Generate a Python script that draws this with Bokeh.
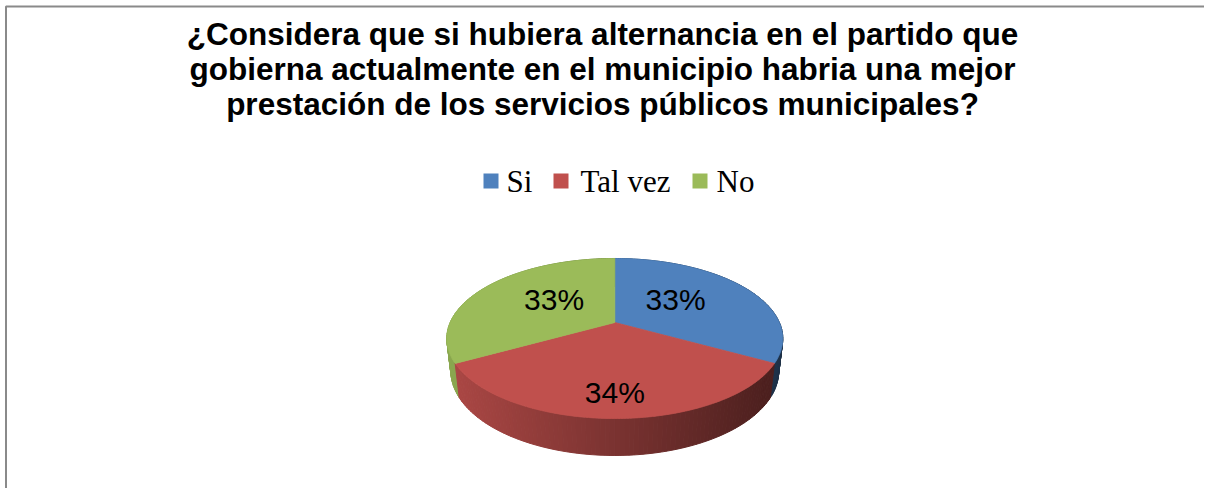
import math
from bokeh.plotting import figure
from bokeh.models import Range1d
from bokeh.core.properties import value
from bokeh.embed import file_html
from bokeh.resources import INLINE

# ---- data ----
categories = ["Si", "Tal vez", "No"]
values = [33, 34, 33]
pct_labels = ["33%", "34%", "33%"]
colors = ["#4f81bd", "#c0504d", "#9bbb59"]
title_lines = [
    "¿Considera que si hubiera alternancia en el partido que",
    "gobierna actualmente en el municipio habria una mejor",
    "prestación de los servicios públicos municipales?",
]

# ---- layout (page pixel coordinates) ----
W, H = 1204, 488
SHIFT = 0.35  # baseline correction, in em


def X(px):
    return px


def Y(py):
    return H - py


p = figure(width=W, height=H, output_backend="svg", toolbar_location=None,
           x_range=Range1d(0, W), y_range=Range1d(0, H), min_border=0,
           x_axis_location=None, y_axis_location=None)
p.grid.visible = False
p.outline_line_color = None
p.background_fill_color = "white"
p.border_fill_color = "white"

# chart border (top & left visible)
p.line([X(5.5), X(5.5), W], [0, Y(6), Y(6)], line_color="#8a8a8a", line_width=2)

# ---- title ----
TS = 31.5
baselines = [45, 80, 115]
for line, b in zip(title_lines, baselines):
    p.text(x=[X(602)], y=[Y(b - SHIFT * TS)], text=[line],
           text_font=value("Liberation Sans"), text_font_style="bold",
           text_font_size=f"{TS}px", text_align="center",
           text_baseline="alphabetic", text_color="black")

# ---- legend ----
LS = 31
sq_left = [483, 553, 692]
txt_left = [506, 580, 716]
for c, cat, sl, tl in zip(colors, categories, sq_left, txt_left):
    p.rect(x=[X(sl + 7.5)], y=[Y(180.5)], width=15, height=15,
           fill_color=c, line_color=None)
    p.text(x=[X(tl)], y=[Y(192 - SHIFT * LS)], text=[cat],
           text_font=value("Liberation Serif"), text_font_size=f"{LS}px",
           text_align="left", text_baseline="alphabetic", text_color="black")

# ---- 3D pie (perspective projection) ----
CX, CY = 614.3, 322.0
D = 4.42
F = 727.6
SPHI = 0.4666
CPHI = math.sqrt(1 - SPHI ** 2)
DEPTH = 0.2248


def proj(theta, r=1.0, h=0.0):
    x3 = r * math.cos(theta)
    z3 = r * math.sin(theta)
    yc = z3 * SPHI + h * CPHI
    d = D + z3 * CPHI - h * SPHI
    return CX + F * x3 / d, CY - F * yc / d


total = float(sum(values))
angles = []
a = math.pi / 2
for v in values:
    span = 2 * math.pi * v / total
    angles.append((a, a - span))
    a -= span

LEFT, RIGHT = CX - 168, CX + 168


def shade(hexc, fac):
    r = int(hexc[1:3], 16)
    g = int(hexc[3:5], 16)
    b = int(hexc[5:7], 16)
    return "#%02x%02x%02x" % (int(r * fac), int(g * fac), int(b * fac))


# side walls
segs = []
N = 90
for (a0, a1), c in zip(angles, colors):
    for i in range(N):
        t0 = a0 + (a1 - a0) * i / N
        t1 = a0 + (a1 - a0) * (i + 1) / N
        p0 = proj(t0)
        p1 = proj(t1)
        q1 = proj(t1, h=-DEPTH)
        q0 = proj(t0, h=-DEPTH)
        xm = (p0[0] + p1[0]) / 2
        tt = min(max((xm - LEFT) / (RIGHT - LEFT), 0), 1)
        fac = 0.9 - 0.52 * tt
        zmid = math.sin((t0 + t1) / 2)
        segs.append((zmid, [X(p0[0]), X(p1[0]), X(q1[0]), X(q0[0])],
                     [Y(p0[1]), Y(p1[1]), Y(q1[1]), Y(q0[1])], shade(c, fac)))
segs.sort(key=lambda s: -s[0])
p.patches(xs=[s[1] for s in segs], ys=[s[2] for s in segs],
          fill_color=[s[3] for s in segs], line_color=[s[3] for s in segs],
          line_width=1)

# top faces
for (a0, a1), c in zip(angles, colors):
    xs = [X(CX)]
    ys = [Y(CY)]
    n = 150
    for i in range(n + 1):
        t = a0 + (a1 - a0) * i / n
        px, py = proj(t)
        xs.append(X(px))
        ys.append(Y(py))
    p.patch(xs, ys, fill_color=c, line_color=c, line_width=0.8)

# percentage labels
PS = 30
for (a0, a1), lab in zip(angles, pct_labels):
    mid = (a0 + a1) / 2
    lx = CX + 0.42 * 168 * math.cos(mid)
    s = math.sin(mid)
    ly = CY - (64 if s > 0 else 96) * 0.72 * s
    p.text(x=[X(lx)], y=[Y(ly + 11 - SHIFT * PS)], text=[lab],
           text_font=value("Liberation Sans"), text_font_size=f"{PS}px",
           text_align="center", text_baseline="alphabetic", text_color="black")

open("out.html", "w").write(file_html(p, INLINE))
